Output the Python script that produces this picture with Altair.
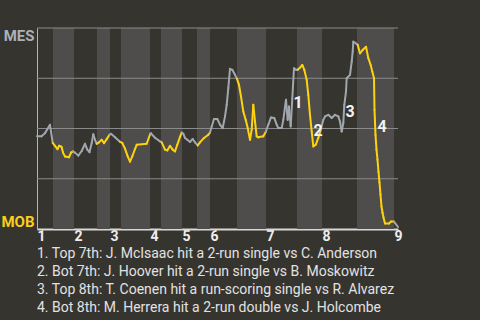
import altair as alt
import pandas as pd

# ---- data -------------------------------------------------------------
# play position along the game (0..361) and MES win probability (%)
play = [0, 4.5, 8, 13, 15.7,
        18, 20.5, 22, 24.5, 26, 28, 32, 34, 36,
        38, 41.3, 44.7, 48, 50.3, 52.5, 54.7, 56.3, 58, 59.7,
        62, 64.7, 67, 69.7, 72.5,
        74, 78, 83,
        85.3, 88, 90.7, 93, 95.3, 98, 99.7, 109.7, 113.3,
        114, 118, 123,
        124.7, 128, 130.3, 133, 135.7, 138, 140.3, 143, 144.7,
        146.3, 148, 150.3, 153, 155.7, 158,
        160.7, 163, 167, 171.3, 173,
        174.7, 177, 180.3, 183, 185.7, 188, 189.7, 191.3, 193, 195.3, 198, 200,
        202, 204, 206.3, 208.7, 210.7, 213, 214.7, 216.3, 218, 219.7, 221.3, 226.3, 228.7,
        231.3, 234, 237.3, 239.7, 241.3, 244.7, 246.3, 249, 250.7, 252, 253.7, 255.3, 257, 259,
        260.7, 263, 265.3, 267.3, 269.7, 271.3, 273, 274.7, 276.3, 278.7, 281.3, 283.7,
        286.3, 288, 291.3, 294.7, 298, 301.3, 303, 304.7, 306.3, 307.3, 309, 309.7, 313,
        314.7, 315.7, 316.3, 318.7,
        320.7, 323, 325.7, 329, 331.3, 333.7, 335.3, 337, 337.5, 338.5, 339.5, 340.5,
        341.5, 342.5, 343.5, 344.5, 345.5, 346.5, 348, 352, 354, 357,
        361]
wp = [46.2, 46.1, 47.7, 51.9, 42.8,
      41.4, 39.7, 41.4, 40.9, 38.0, 36.1, 35.7, 38.0, 38.6,
      38.0, 36.5, 38.8, 42.4, 39.5, 38.2, 42.8, 47.1, 44.4, 42.4,
      43.1, 44.4, 42.7, 44.7, 46.9,
      47.4, 45.7, 43.4,
      42.8, 40.0, 36.1, 33.5, 36.1, 39.8, 41.9, 42.4, 47.4,
      47.6, 45.4, 43.6,
      43.1, 39.5, 39.1, 41.4, 39.5, 38.6, 41.9, 45.8, 48.0,
      47.4, 45.3, 44.4, 43.3, 44.8, 43.1,
      41.6, 43.1, 45.3, 46.9, 48.0,
      51.0, 54.7, 54.7, 51.9, 50.2, 56.0, 61.8, 70.1, 79.7, 79.2, 76.7, 74.7,
      71.7, 65.9, 58.5, 54.3, 50.2, 44.4, 49.4, 61.8, 53.5, 46.1, 45.6, 46.1, 48.2,
      51.9, 55.5, 55.2, 51.9, 50.2, 50.2, 54.3, 64.3, 54.3, 60.9, 51.0, 65.1, 80.0, 79.2,
      79.2, 80.3, 81.6, 79.2, 74.2, 66.7, 56.8, 48.5, 41.1, 41.9, 45.3, 49.4,
      54.3, 56.0, 56.8, 55.2, 56.8, 56.0, 53.5, 48.5, 52.7, 61.8, 68.4, 75.0, 76.7,
      83.3, 88.2, 93.2, 92.4,
      91.6, 87.4, 89.1, 90.7, 85.0, 81.6, 78.3, 75.0, 59.3, 46.9, 39.5, 34.5,
      28.5, 23.1, 17.1, 11.2, 8.2, 5.7, 2.7, 2.7, 3.7, 3.7,
      1.0]

# half-inning boundaries (top 1, bot 1, top 2, ...)
half_bounds = [0, 16, 37, 60, 73, 84, 113, 124, 145, 160, 173, 200, 229, 260, 285, 320, 357, 361]
inning_starts = [0, 37, 73, 113, 145, 173, 229, 285, 357]
inning_labels = ["1", "2", "3", "4", "5", "6", "7", "8", "9"]
grid_levels = [25, 50, 75, 100]

ann_play = [261, 281, 313, 345]
ann_wp = [62.8, 48.9, 58.3, 50.9]
ann_text = ["1", "2", "3", "4"]

notes = [
    "1. Top 7th: J. McIsaac hit a 2-run single vs C. Anderson",
    "2. Bot 7th: J. Hoover hit a 2-run single vs B. Moskowitz",
    "3. Top 8th: T. Coenen hit a run-scoring single vs R. Alvarez",
    "4. Bot 8th: M. Herrera hit a 2-run double vs J. Holcombe",
]

# ---- derived tables ---------------------------------------------------
def half_of(x):
    idx = 0
    for i, b in enumerate(half_bounds[:-1]):
        if x >= b:
            idx = i
    return "bot" if idx % 2 == 1 else "top"

seg = pd.DataFrame({
    "play": play[:-1], "wp": wp[:-1],
    "play2": play[1:], "wp2": wp[1:],
})
seg["half"] = [half_of((a + b) / 2) for a, b in zip(play[:-1], play[1:])]

bands = pd.DataFrame({
    "start": [half_bounds[i] for i in range(1, len(half_bounds) - 1, 2)],
    "end": [half_bounds[i + 1] for i in range(1, len(half_bounds) - 1, 2)],
})
grid = pd.DataFrame({"wp": grid_levels})
ann = pd.DataFrame({"play": ann_play, "wp": ann_wp, "t": ann_text})

W, H = 361, 201
FONT = "Roboto"
GRAY = "#a0a7ad"
YELLOW = "#fdd20f"

label_expr = "[" + ",".join(f"'{l}'" for l in inning_labels) + "][indexof([" + \
    ",".join(str(v) for v in inning_starts) + "], datum.value)]"

xscale = alt.Scale(domain=[0, 361], nice=False, zero=False)
yscale = alt.Scale(domain=[0, 100], nice=False, zero=False)

x_axis = alt.Axis(values=inning_starts, labelExpr=label_expr, labelAlign="left",
                  labelBaseline="top", labelPadding=0, labelFont=FONT, labelFontSize=14,
                  labelFontWeight="bold", labelColor="#eeeeee", ticks=False, grid=False,
                  domainColor="#d8d8d8", domainWidth=2, labelFlush=False, labelOverlap=False,
                  title=None)
y_axis = alt.Axis(values=[0, 100], labelExpr="datum.value == 100 ? 'MES' : 'MOB'",
                  labelColor={"condition": {"test": "datum.value == 100", "value": "#a9b1b9"},
                              "value": "#f8d01a"},
                  labelBaseline={"condition": {"test": "datum.value == 100", "value": "top"},
                                 "value": "bottom"},
                  labelFont=FONT, labelFontSize=15, labelFontWeight="bold", labelPadding=3,
                  ticks=False, grid=False, domainColor="#b5b5b5", domainWidth=1,
                  labelFlush=False, title=None)

band_layer = alt.Chart(bands).mark_rect(color="#4e4d4b").encode(
    x=alt.X("start:Q", scale=xscale, axis=x_axis),
    x2="end:Q",
    y=alt.value(0), y2=alt.value(H),
)

grid_layer = alt.Chart(grid).mark_rule(color="#8a8a8a", strokeWidth=1).encode(
    y=alt.Y("wp:Q", scale=yscale, axis=y_axis),
)

line_layer = alt.Chart(seg).mark_rule(strokeWidth=2, strokeCap="round").encode(
    x=alt.X("play:Q", scale=xscale),
    x2="play2:Q",
    y=alt.Y("wp:Q", scale=yscale),
    y2="wp2:Q",
    color=alt.Color("half:N", scale=alt.Scale(domain=["top", "bot"], range=[GRAY, YELLOW]),
                    legend=None),
)

ann_layer = alt.Chart(ann).mark_text(font=FONT, fontSize=16, fontWeight="bold",
                                     color="#f2f2f2", align="center", baseline="middle").encode(
    x=alt.X("play:Q", scale=xscale),
    y=alt.Y("wp:Q", scale=yscale),
    text="t:N",
)

chart = alt.layer(band_layer, grid_layer, line_layer, ann_layer).properties(
    width=W, height=H,
    autosize=alt.AutoSizeParams(type="none"),
    padding={"left": 37, "top": 28, "right": 82, "bottom": 91},
    background="#36342f",
    title=alt.TitleParams(text=notes, orient="bottom", anchor="start", frame="group",
                          font=FONT, fontSize=14, fontWeight="normal", color="#e2e2e2",
                          lineHeight=18, offset=4),
).configure_view(stroke=None)

chart.save("out.html", embed_options={"renderer": "svg", "actions": False})
